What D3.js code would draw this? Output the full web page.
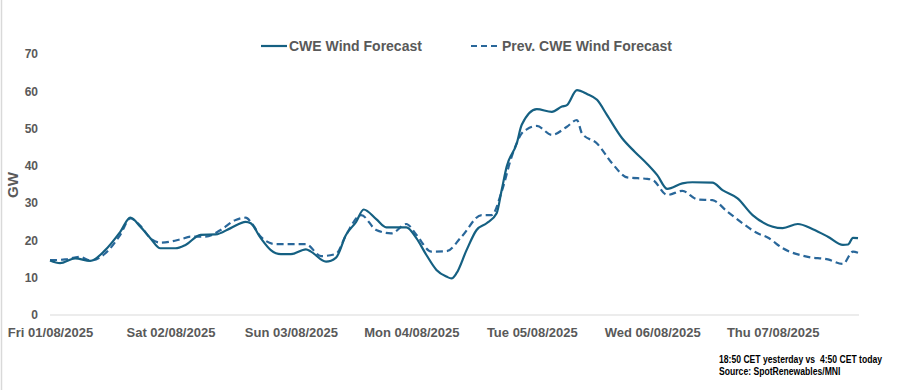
<!DOCTYPE html>
<html>
<head>
<meta charset="utf-8">
<script src="https://cdn.jsdelivr.net/npm/d3@7"></script>
<style>
  body { margin: 0; background: #fff; }
  svg text { font-family: "Liberation Sans", Arial, sans-serif; font-weight: bold; }
</style>
</head>
<body>
<div id="chart"></div>
<script>
// Data, hours counted from Fri 01/08/2025 00:00
var startDate = new Date(2025, 7, 1, 0, 0);
var endHour = 161;

var currentHours = [0, 2, 5, 8, 11, 14, 16, 18, 20, 22, 25, 27, 30, 33, 36, 39, 40, 42, 44, 46, 48, 51, 52, 55, 57, 59, 61, 62.5, 65, 67, 71, 73, 75, 77, 79, 80, 81, 83, 85, 87, 89, 90, 91, 93, 94, 97, 100, 102, 103, 105, 107, 109, 111, 114, 116.5, 119, 121, 123, 126, 128, 132, 134, 137, 140, 146, 149, 152, 155, 158, 159, 160, 161];
var currentValues = [14.6, 13.9, 15.2, 14.5, 17.4, 22.3, 26.1, 23.7, 20.6, 17.9, 17.9, 18.8, 21.5, 21.6, 23.3, 25.0, 24.6, 20.6, 17.4, 16.3, 16.3, 17.6, 17.0, 14.3, 15.4, 21.5, 25.0, 28.3, 25.7, 23.5, 23.5, 20.6, 16.1, 12.1, 10.3, 9.8, 11.2, 17.4, 22.8, 24.6, 27.3, 33.5, 39.8, 46.0, 51.0, 55.2, 54.5, 55.9, 56.3, 60.3, 59.3, 57.7, 53.6, 47.4, 43.8, 40.5, 37.5, 33.8, 35.3, 35.6, 35.5, 33.5, 31.3, 26.8, 23.3, 24.4, 23.0, 21.0, 18.8, 18.9, 20.7, 20.6];

var prevHours = [0, 3, 6, 8, 11, 14, 16, 18, 20, 22, 26, 28, 31, 34, 37, 39, 40, 42, 45, 48, 51, 54, 57, 59, 62, 65, 68, 71, 73, 76, 79, 82, 86, 88, 90, 92, 94, 95, 97, 100, 103, 105, 106, 109, 112, 115, 119, 120, 123, 126, 129, 132, 135, 138, 141, 143, 146, 151, 155, 158, 160, 161];
var prevValues = [14.7, 14.9, 15.6, 14.6, 16.5, 21.5, 25.9, 23.9, 20.6, 19.4, 20.3, 21.0, 21.0, 22.8, 25.5, 26.1, 25.0, 21.0, 19.0, 19.0, 19.0, 15.8, 16.4, 21.5, 26.8, 22.8, 21.9, 24.4, 21.5, 17.0, 17.1, 21.0, 26.8, 26.8, 33.1, 42.5, 48.7, 49.8, 50.7, 48.3, 50.5, 52.3, 48.7, 46.0, 40.7, 36.9, 36.5, 36.3, 32.2, 33.3, 31.0, 30.8, 27.7, 24.6, 21.9, 20.8, 17.9, 15.6, 14.9, 13.7, 17.0, 16.7];

var yTicks = [0, 10, 20, 30, 40, 50, 60, 70];
var dayLabels = ["Fri 01/08/2025", "Sat 02/08/2025", "Sun 03/08/2025", "Mon 04/08/2025", "Tue 05/08/2025", "Wed 06/08/2025", "Thu 07/08/2025"];
var seriesNames = ["CWE Wind Forecast", "Prev. CWE Wind Forecast"];
var noteLines = ["18:50 CET yesterday vs  4:50 CET today", "Source: SpotRenewables/MNI"];

var width = 910, height = 390;
var margin = {top: 54, right: 52, bottom: 75, left: 50};
var textColor = "#595959";
var solidColor = "#156082";
var dashColor = "#29679a";

var svg = d3.select("#chart")
    .append("svg")
    .attr("width", width)
    .attr("height", height);

// chart frame (left edge only is visible)
svg.append("line")
    .attr("x1", 1.5).attr("x2", 1.5)
    .attr("y1", 0).attr("y2", height)
    .attr("stroke", "#d9d9d9")
    .attr("stroke-width", 1.5);

// Scales
var x = d3.scaleTime()
    .domain([startDate, d3.timeHour.offset(startDate, endHour)])
    .range([margin.left, width - margin.right]);

var y = d3.scaleLinear()
    .domain([0, 70])
    .range([height - margin.bottom, margin.top]);

// Y axis
var yAxis = svg.append("g")
    .attr("transform", "translate(" + margin.left + ",0)")
    .call(d3.axisLeft(y).tickValues(yTicks).tickSize(0).tickPadding(12));
yAxis.select(".domain").remove();
yAxis.selectAll("text")
    .style("font-size", "12px")
    .attr("fill", textColor);

// baseline
svg.append("line")
    .attr("x1", margin.left).attr("x2", width - margin.right + 1)
    .attr("y1", y(0)).attr("y2", y(0))
    .attr("stroke", "#d9d9d9")
    .attr("stroke-width", 1);

// X axis labels at midnight of each day
var dayDates = dayLabels.map(function(d, i) { return d3.timeDay.offset(startDate, i); });
var xAxis = svg.append("g")
    .attr("transform", "translate(0," + y(0) + ")")
    .call(d3.axisBottom(x).tickValues(dayDates).tickSize(0).tickPadding(13)
        .tickFormat(function(d, i) { return dayLabels[i]; }));
xAxis.select(".domain").remove();
xAxis.selectAll("text")
    .style("font-size", "13px")
    .attr("fill", textColor);

// Y axis title
svg.append("text")
    .attr("transform", "translate(18," + 185 + ") rotate(-90)")
    .attr("text-anchor", "middle")
    .style("font-size", "15px")
    .attr("fill", textColor)
    .text("GW");

// Lines
var line = d3.line()
    .x(function(d) { return x(startDate.getTime() + d.h * 3600000); })
    .y(function(d) { return y(d.v); })
    .curve(d3.curveMonotoneX);

var prevData = prevHours.map(function(h, i) { return {h: h, v: prevValues[i]}; });
var currentData = currentHours.map(function(h, i) { return {h: h, v: currentValues[i]}; });

svg.append("path")
    .datum(prevData)
    .attr("fill", "none")
    .attr("stroke", dashColor)
    .attr("stroke-width", 2.2)
    .attr("stroke-dasharray", "7,4")
    .attr("d", line);

svg.append("path")
    .datum(currentData)
    .attr("fill", "none")
    .attr("stroke", solidColor)
    .attr("stroke-width", 2.2)
    .attr("d", line);

// Legend
var legendY = 46;
svg.append("line")
    .attr("x1", 261).attr("x2", 287)
    .attr("y1", legendY).attr("y2", legendY)
    .attr("stroke", solidColor).attr("stroke-width", 2.2);
svg.append("text")
    .attr("x", 289).attr("y", legendY + 5)
    .style("font-size", "14px")
    .attr("fill", textColor)
    .text(seriesNames[0]);

svg.append("line")
    .attr("x1", 471).attr("x2", 497)
    .attr("y1", legendY).attr("y2", legendY)
    .attr("stroke", dashColor).attr("stroke-width", 2.2)
    .attr("stroke-dasharray", "6,4");
svg.append("text")
    .attr("x", 502).attr("y", legendY + 5)
    .style("font-size", "14px")
    .attr("fill", textColor)
    .text(seriesNames[1]);

// Notes (narrow bold look: squeeze horizontally)
svg.selectAll(".note")
    .data(noteLines)
    .enter()
    .append("text")
    .attr("class", "note")
    .attr("transform", function(d, i) { return "translate(719," + (363 + i * 12) + ") scale(0.82,1)"; })
    .style("font-size", "10.5px")
    .style("white-space", "pre")
    .attr("xml:space", "preserve")
    .attr("fill", "#000")
    .text(function(d) { return d; });
</script>
</body>
</html>
